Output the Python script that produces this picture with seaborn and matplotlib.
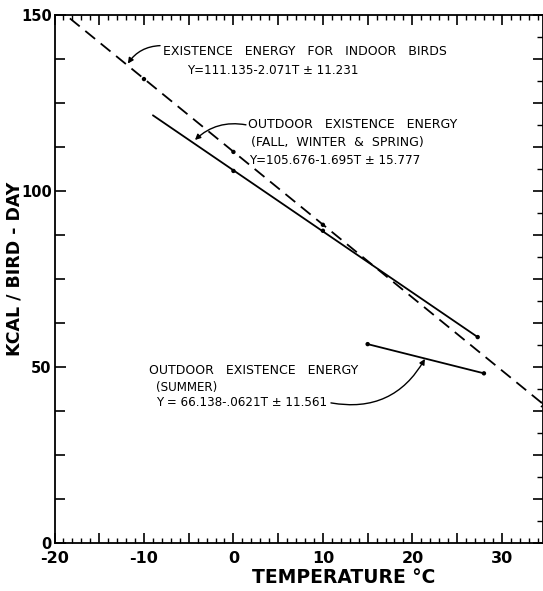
import matplotlib
matplotlib.use("Agg")
import matplotlib.pyplot as plt
from matplotlib.ticker import MultipleLocator, FuncFormatter
import seaborn as sns
import pandas as pd

# ---- data ----
indoor_T = [-20.0, 34.6]
indoor_Y = [152.6, 39.5]
indoor_pts_T = [-10.0, 0.0, 10.0]
indoor_pts_Y = [131.8, 111.1, 90.4]

fall_T = [-9.0, 27.3]
fall_Y = [121.5, 58.5]
fall_pts_T = [0.0, 10.0, 27.3]
fall_pts_Y = [105.7, 88.7, 58.5]

summer_T = [15.0, 28.0]
summer_Y = [56.5, 48.2]

x_ticks = [-20, -10, 0, 10, 20, 30]
y_ticks = [0, 50, 100, 150]

sns.set_style("ticks")
plt.rcParams['font.family'] = ['DejaVu Sans']
plt.rcParams['text.color'] = 'black'
plt.rcParams['axes.labelcolor'] = 'black'
plt.rcParams['xtick.color'] = 'black'
plt.rcParams['ytick.color'] = 'black'

fig = plt.figure(figsize=(5.43, 5.91), dpi=100)
ax = fig.add_axes([54.5 / 543, 48 / 591, (543 - 54.5) / 543, 528 / 591])

dash = (0, (7, 4))
sns.lineplot(x=indoor_T, y=indoor_Y, ax=ax, color='black', lw=1.3, linestyle=dash)
sns.scatterplot(x=indoor_pts_T, y=indoor_pts_Y, ax=ax, color='black', s=10, edgecolor='none')
sns.lineplot(x=fall_T, y=fall_Y, ax=ax, color='black', lw=1.3)
sns.scatterplot(x=fall_pts_T, y=fall_pts_Y, ax=ax, color='black', s=10, edgecolor='none')
sns.lineplot(x=summer_T, y=summer_Y, ax=ax, color='black', lw=1.3)
sns.scatterplot(x=summer_T, y=summer_Y, ax=ax, color='black', s=10, edgecolor='none')
ax.scatter([indoor_T[-1]], [indoor_Y[-1]], marker='x', color='black', s=14, lw=1.0,
           clip_on=False, zorder=5)

ax.set_xlim(-20, 34.6)
ax.set_ylim(0, 150)

for s in ax.spines.values():
    s.set_linewidth(1.3)
    s.set_color('black')

ax.xaxis.set_major_locator(MultipleLocator(5))
ax.xaxis.set_minor_locator(MultipleLocator(1))
ax.xaxis.set_major_formatter(FuncFormatter(lambda v, p: f"{int(v)}" if v in x_ticks else ""))
ax.yaxis.set_major_locator(MultipleLocator(50))
ax.yaxis.set_minor_locator(MultipleLocator(12.5))
ax.yaxis.set_major_formatter(FuncFormatter(lambda v, p: f"{int(v)}" if v in y_ticks else ""))

ax.tick_params(axis='x', which='major', direction='in', length=7, width=1.2,
               labelsize=11.5, pad=6, top=True, colors='black')
ax.tick_params(axis='x', which='minor', direction='in', length=3.5, width=1.0, top=True,
               colors='black')
ax.tick_params(axis='y', which='major', direction='in', length=8, width=1.2,
               labelsize=10.5, pad=2, right=False, colors='black')
ax.tick_params(axis='y', which='minor', direction='in', length=7, width=1.2, right=False,
               colors='black')

# right-hand axis ticks
axr = ax.twinx()
axr.set_ylim(0, 150)
axr.yaxis.set_major_locator(MultipleLocator(12.5))
axr.yaxis.set_minor_locator(MultipleLocator(6.25))
axr.tick_params(axis='y', which='major', direction='in', length=7, width=1.2,
                labelright=False, colors='black')
axr.tick_params(axis='y', which='minor', direction='in', length=4, width=1.0, colors='black')
for s in axr.spines.values():
    s.set_visible(False)

for lab in ax.get_xticklabels() + ax.get_yticklabels():
    lab.set_fontweight('bold')

ax.set_xlabel("TEMPERATURE °C", fontsize=13.5, fontweight='bold', color='black')
ax.xaxis.set_label_coords((343 - 54.5) / 488, -0.065)
ax.xaxis.label.set_va('center')
ax.set_ylabel("")
fig.text(15 / 543, 1 - 269 / 591, "KCAL / BIRD - DAY", rotation=90, ha='center', va='center',
         fontsize=12.5, fontweight='bold', color='black')

tk = dict(fontsize=8.6, color='black', va='center', ha='left')
tw = dict(fontsize=9, color='black', va='center', ha='left')
ax.text(-7.9, 139.5, "EXISTENCE   ENERGY   FOR   INDOOR   BIRDS", **tw)
ax.text(-5.2, 134.3, "Y=111.135-2.071T ± 11.231", **tk)
ax.annotate("", xy=(-11.8, 136.2), xytext=(-8.2, 141.3),
            arrowprops=dict(arrowstyle='-|>', color='black', lw=1.0, mutation_scale=8,
                            connectionstyle='arc3,rad=0.25', shrinkA=0, shrinkB=0))

ax.text(1.6, 118.8, "OUTDOOR   EXISTENCE   ENERGY", **tw)
ax.text(2.0, 113.9, "(FALL,  WINTER  &  SPRING)", **tw)
ax.text(1.7, 108.6, "Y=105.676-1.695T ± 15.777", **tk)
ax.annotate("", xy=(-4.3, 114.5), xytext=(1.4, 118.8),
            arrowprops=dict(arrowstyle='-|>', color='black', lw=1.0, mutation_scale=8,
                            connectionstyle='arc3,rad=0.25', shrinkA=0, shrinkB=0))

ax.text(-9.4, 48.9, "OUTDOOR   EXISTENCE   ENERGY", **tw)
ax.text(-8.6, 44.1, "(SUMMER)", **tk)
ax.text(-8.6, 39.8, "Y = 66.138-.0621T ± 11.561", **tk)
ax.annotate("", xy=(21.4, 52.3), xytext=(10.9, 39.8),
            arrowprops=dict(arrowstyle='-|>', color='black', lw=1.0, mutation_scale=8,
                            connectionstyle='arc3,rad=0.35', shrinkA=0, shrinkB=0))

fig.savefig("out.png", dpi=100)
